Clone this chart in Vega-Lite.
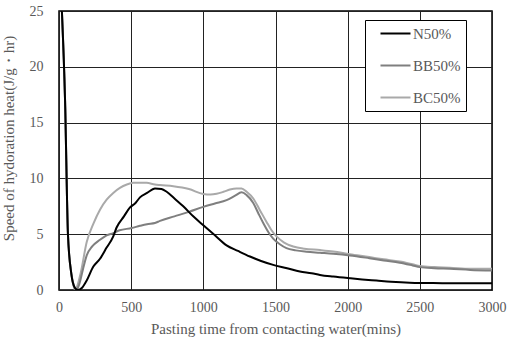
{
  "$schema": "https://vega.github.io/schema/vega-lite/v6.json",
  "width": 433,
  "height": 279,
  "autosize": {"type": "none"},
  "padding": {"left": 59, "top": 11, "right": 16, "bottom": 52},
  "background": "white",
  "config": {
    "font": "Liberation Serif",
    "view": {"stroke": "black", "strokeWidth": 1.5},
    "axis": {
      "labelFont": "Liberation Serif",
      "titleFont": "Liberation Serif",
      "labelFontSize": 14,
      "titleFontSize": 15,
      "titleFontWeight": "normal",
      "labelColor": "#595959",
      "titleColor": "#595959",
      "gridColor": "#222222",
      "gridOpacity": 1,
      "gridWidth": 1,
      "ticks": false,
      "domain": false
    }
  },
  "data": {"values": [
    {"t":0,"v":30,"s":"BC50%"},{"t":20,"v":25,"s":"BC50%"},{"t":42,"v":17,"s":"BC50%"},{"t":62,"v":5,"s":"BC50%"},{"t":85,"v":1.5,"s":"BC50%"},{"t":100,"v":0.4,"s":"BC50%"},{"t":111,"v":0,"s":"BC50%"},{"t":125,"v":0.3,"s":"BC50%"},{"t":150,"v":1.5,"s":"BC50%"},{"t":192,"v":4.3,"s":"BC50%"},{"t":240,"v":6.0,"s":"BC50%"},{"t":284,"v":7.2,"s":"BC50%"},{"t":330,"v":8.1,"s":"BC50%"},{"t":376,"v":8.7,"s":"BC50%"},{"t":422,"v":9.15,"s":"BC50%"},{"t":470,"v":9.45,"s":"BC50%"},{"t":515,"v":9.6,"s":"BC50%"},{"t":560,"v":9.62,"s":"BC50%"},{"t":607,"v":9.6,"s":"BC50%"},{"t":665,"v":9.45,"s":"BC50%"},{"t":700,"v":9.4,"s":"BC50%"},{"t":792,"v":9.3,"s":"BC50%"},{"t":900,"v":9.05,"s":"BC50%"},{"t":1000,"v":8.6,"s":"BC50%"},{"t":1050,"v":8.55,"s":"BC50%"},{"t":1092,"v":8.62,"s":"BC50%"},{"t":1140,"v":8.8,"s":"BC50%"},{"t":1184,"v":9.0,"s":"BC50%"},{"t":1230,"v":9.1,"s":"BC50%"},{"t":1265,"v":9.1,"s":"BC50%"},{"t":1300,"v":8.8,"s":"BC50%"},{"t":1346,"v":8.2,"s":"BC50%"},{"t":1390,"v":7.2,"s":"BC50%"},{"t":1438,"v":6.1,"s":"BC50%"},{"t":1470,"v":5.4,"s":"BC50%"},{"t":1507,"v":4.8,"s":"BC50%"},{"t":1560,"v":4.25,"s":"BC50%"},{"t":1623,"v":3.9,"s":"BC50%"},{"t":1700,"v":3.7,"s":"BC50%"},{"t":1808,"v":3.58,"s":"BC50%"},{"t":1900,"v":3.45,"s":"BC50%"},{"t":2015,"v":3.2,"s":"BC50%"},{"t":2150,"v":2.95,"s":"BC50%"},{"t":2250,"v":2.75,"s":"BC50%"},{"t":2361,"v":2.55,"s":"BC50%"},{"t":2450,"v":2.3,"s":"BC50%"},{"t":2500,"v":2.15,"s":"BC50%"},{"t":2600,"v":2.05,"s":"BC50%"},{"t":2708,"v":2.0,"s":"BC50%"},{"t":2850,"v":1.9,"s":"BC50%"},{"t":3000,"v":1.9,"s":"BC50%"},
    {"t":0,"v":30,"s":"BB50%"},{"t":20,"v":25,"s":"BB50%"},{"t":42,"v":17,"s":"BB50%"},{"t":62,"v":5,"s":"BB50%"},{"t":85,"v":1.5,"s":"BB50%"},{"t":105,"v":0.3,"s":"BB50%"},{"t":120,"v":0,"s":"BB50%"},{"t":140,"v":0.5,"s":"BB50%"},{"t":165,"v":1.8,"s":"BB50%"},{"t":192,"v":3.1,"s":"BB50%"},{"t":230,"v":3.9,"s":"BB50%"},{"t":284,"v":4.5,"s":"BB50%"},{"t":330,"v":4.9,"s":"BB50%"},{"t":376,"v":5.1,"s":"BB50%"},{"t":420,"v":5.35,"s":"BB50%"},{"t":503,"v":5.55,"s":"BB50%"},{"t":560,"v":5.75,"s":"BB50%"},{"t":610,"v":5.9,"s":"BB50%"},{"t":665,"v":6.0,"s":"BB50%"},{"t":700,"v":6.2,"s":"BB50%"},{"t":800,"v":6.6,"s":"BB50%"},{"t":900,"v":7.0,"s":"BB50%"},{"t":1000,"v":7.45,"s":"BB50%"},{"t":1080,"v":7.75,"s":"BB50%"},{"t":1161,"v":8.05,"s":"BB50%"},{"t":1220,"v":8.45,"s":"BB50%"},{"t":1265,"v":8.75,"s":"BB50%"},{"t":1300,"v":8.5,"s":"BB50%"},{"t":1346,"v":7.8,"s":"BB50%"},{"t":1380,"v":6.9,"s":"BB50%"},{"t":1415,"v":6.0,"s":"BB50%"},{"t":1450,"v":5.2,"s":"BB50%"},{"t":1484,"v":4.6,"s":"BB50%"},{"t":1530,"v":4.1,"s":"BB50%"},{"t":1576,"v":3.75,"s":"BB50%"},{"t":1640,"v":3.55,"s":"BB50%"},{"t":1715,"v":3.43,"s":"BB50%"},{"t":1808,"v":3.34,"s":"BB50%"},{"t":1900,"v":3.25,"s":"BB50%"},{"t":2015,"v":3.1,"s":"BB50%"},{"t":2150,"v":2.85,"s":"BB50%"},{"t":2250,"v":2.65,"s":"BB50%"},{"t":2361,"v":2.45,"s":"BB50%"},{"t":2450,"v":2.2,"s":"BB50%"},{"t":2500,"v":2.05,"s":"BB50%"},{"t":2600,"v":1.95,"s":"BB50%"},{"t":2708,"v":1.9,"s":"BB50%"},{"t":2850,"v":1.8,"s":"BB50%"},{"t":3000,"v":1.75,"s":"BB50%"},
    {"t":0,"v":30,"s":"N50%"},{"t":20,"v":25,"s":"N50%"},{"t":42,"v":17,"s":"N50%"},{"t":62,"v":5,"s":"N50%"},{"t":85,"v":1.5,"s":"N50%"},{"t":110,"v":0.2,"s":"N50%"},{"t":130,"v":0,"s":"N50%"},{"t":160,"v":0.2,"s":"N50%"},{"t":190,"v":0.8,"s":"N50%"},{"t":238,"v":2.1,"s":"N50%"},{"t":284,"v":2.8,"s":"N50%"},{"t":330,"v":3.8,"s":"N50%"},{"t":376,"v":4.8,"s":"N50%"},{"t":399,"v":5.6,"s":"N50%"},{"t":450,"v":6.6,"s":"N50%"},{"t":492,"v":7.4,"s":"N50%"},{"t":530,"v":7.8,"s":"N50%"},{"t":561,"v":8.3,"s":"N50%"},{"t":610,"v":8.7,"s":"N50%"},{"t":665,"v":9.1,"s":"N50%"},{"t":710,"v":9.05,"s":"N50%"},{"t":746,"v":8.8,"s":"N50%"},{"t":800,"v":8.2,"s":"N50%"},{"t":861,"v":7.5,"s":"N50%"},{"t":930,"v":6.6,"s":"N50%"},{"t":1000,"v":5.8,"s":"N50%"},{"t":1080,"v":4.9,"s":"N50%"},{"t":1161,"v":4.0,"s":"N50%"},{"t":1240,"v":3.5,"s":"N50%"},{"t":1323,"v":3.0,"s":"N50%"},{"t":1400,"v":2.6,"s":"N50%"},{"t":1484,"v":2.25,"s":"N50%"},{"t":1580,"v":1.95,"s":"N50%"},{"t":1669,"v":1.65,"s":"N50%"},{"t":1750,"v":1.5,"s":"N50%"},{"t":1808,"v":1.35,"s":"N50%"},{"t":1900,"v":1.2,"s":"N50%"},{"t":2015,"v":1.05,"s":"N50%"},{"t":2100,"v":0.95,"s":"N50%"},{"t":2200,"v":0.85,"s":"N50%"},{"t":2300,"v":0.75,"s":"N50%"},{"t":2430,"v":0.66,"s":"N50%"},{"t":2550,"v":0.63,"s":"N50%"},{"t":2700,"v":0.6,"s":"N50%"},{"t":2850,"v":0.6,"s":"N50%"},{"t":3000,"v":0.6,"s":"N50%"}
  ]},
  "mark": {"type": "line", "strokeWidth": 2, "clip": true, "interpolate": "monotone"},
  "encoding": {
    "x": {
      "field": "t", "type": "quantitative",
      "scale": {"domain": [0, 3000], "nice": false},
      "axis": {"values": [0, 500, 1000, 1500, 2000, 2500, 3000], "format": "d", "labelPadding": 10, "title": "Pasting time from contacting water(mins)", "titlePadding": 7, "labelFlush": false}
    },
    "y": {
      "field": "v", "type": "quantitative",
      "scale": {"domain": [0, 25], "nice": false},
      "axis": {"values": [0, 5, 10, 15, 20, 25], "format": "d", "labelPadding": 16, "title": "Speed of hydoration heat(J/g・hr)", "titlePadding": 13, "titleY": 127}
    },
    "color": {
      "field": "s", "type": "nominal",
      "scale": {"domain": ["N50%", "BB50%", "BC50%"], "range": ["#000000", "#7f7f7f", "#a9a9a9"]},
      "legend": {
        "title": null,
        "orient": "none",
        "legendX": 306,
        "legendY": 9,
        "symbolType": "M-2,0H2",
        "symbolSize": 225,
        "symbolStrokeWidth": 2,
        "symbolOffset": 17,
        "labelFont": "Liberation Serif",
        "labelFontSize": 15,
        "labelColor": "#595959",
        "labelOffset": 9,
        "labelExpr": "datum.label + '      '",
        "padding": 5,
        "rowPadding": 15,
        "strokeColor": "black",
        "fillColor": "white"
      }
    },
    "order": {"field": "s"}
  }
}
